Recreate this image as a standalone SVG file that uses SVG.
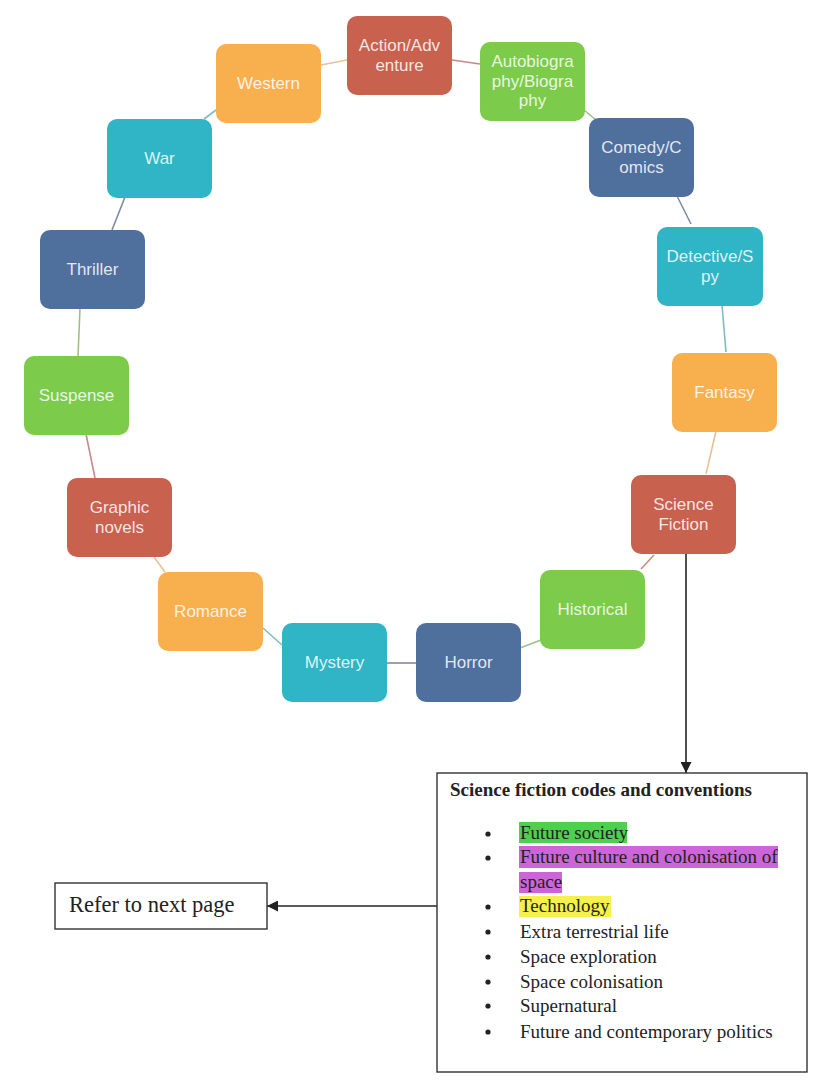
<svg xmlns="http://www.w3.org/2000/svg" width="821" height="1086" viewBox="0 0 821 1086">
<defs>
<style>
.n rect{rx:10;ry:10}
.red{fill:#c9614f}
.grn{fill:#7ccb4b}
.blu{fill:#4f6f9d}
.tea{fill:#2fb5c6}
.org{fill:#f8b04f}
.nt{font-family:"Liberation Sans",Arial,sans-serif;font-size:17px;fill:#fff;fill-opacity:0.85;text-anchor:middle}
.c line{stroke-width:1.6;fill:none}
.cr{stroke:#c98a86}.cg{stroke:#9cc08a}.cb{stroke:#7f8aa6}.ct{stroke:#7fbcc4}.co{stroke:#e6c294}
.ser{font-family:"Liberation Serif","Times New Roman",serif;fill:#222}
.blk{stroke:#222;stroke-width:1.4;fill:none}
</style>
<marker id="ah" viewBox="0 0 10 10" refX="10" refY="5" markerWidth="11" markerHeight="11" markerUnits="userSpaceOnUse" orient="auto">
<path d="M0,0 L10,5 L0,10 z" fill="#222"/>
</marker>
</defs>
<rect width="821" height="1086" fill="#fff"/>

<g id="connectors" class="c">
<line class="cr" x1="452" y1="60" x2="480" y2="64"/>
<line class="cg" x1="584" y1="110" x2="596" y2="120"/>
<line class="cb" x1="677" y1="196" x2="691" y2="224"/>
<line class="ct" x1="722" y1="305" x2="726" y2="352"/>
<line class="co" x1="716" y1="431" x2="706" y2="474"/>
<line class="cr" x1="654" y1="555" x2="641" y2="569"/>
<line class="cg" x1="541" y1="640" x2="520" y2="648"/>
<line class="cb" x1="416" y1="663" x2="387" y2="663"/>
<line class="ct" x1="282" y1="645" x2="263" y2="628"/>
<line class="co" x1="165" y1="572" x2="154" y2="557"/>
<line class="cr" x1="95" y1="478" x2="86" y2="434"/>
<line class="cg" x1="78" y1="356" x2="80" y2="308"/>
<line class="cb" x1="112" y1="230" x2="125" y2="197"/>
<line class="ct" x1="204" y1="119" x2="216" y2="110"/>
<line class="co" x1="321" y1="65" x2="347" y2="60"/>
<line class="blk" x1="686" y1="553" x2="686" y2="773" marker-end="url(#ah)"/>
<line class="blk" x1="437" y1="906" x2="267" y2="906" marker-end="url(#ah)"/>
</g>

<g id="action" class="n"><rect class="red" x="347" y="16" width="105" height="79"/><text class="nt" x="399.5" y="51">Action/Adv</text><text class="nt" x="399.5" y="70.6">enture</text></g>
<g id="autobiography" class="n"><rect class="grn" x="480" y="42" width="105" height="79"/><text class="nt" x="532.5" y="67">Autobiogra</text><text class="nt" x="532.5" y="86.6">phy/Biogra</text><text class="nt" x="532.5" y="106.2">phy</text></g>
<g id="comedy" class="n"><rect class="blu" x="589" y="118" width="105" height="79"/><text class="nt" x="641.5" y="153">Comedy/C</text><text class="nt" x="641.5" y="172.6">omics</text></g>
<g id="detective" class="n"><rect class="tea" x="657" y="227" width="106" height="79"/><text class="nt" x="710" y="262">Detective/S</text><text class="nt" x="710" y="281.6">py</text></g>
<g id="fantasy" class="n"><rect class="org" x="672" y="353" width="105" height="79"/><text class="nt" x="724.5" y="398">Fantasy</text></g>
<g id="scifi" class="n"><rect class="red" x="631" y="475" width="105" height="79"/><text class="nt" x="683.5" y="510">Science</text><text class="nt" x="683.5" y="529.6">Fiction</text></g>
<g id="historical" class="n"><rect class="grn" x="540" y="570" width="105" height="79"/><text class="nt" x="592.5" y="615">Historical</text></g>
<g id="horror" class="n"><rect class="blu" x="416" y="623" width="105" height="79"/><text class="nt" x="468.5" y="668">Horror</text></g>
<g id="mystery" class="n"><rect class="tea" x="282" y="623" width="105" height="79"/><text class="nt" x="334.5" y="668">Mystery</text></g>
<g id="romance" class="n"><rect class="org" x="158" y="572" width="105" height="79"/><text class="nt" x="210.5" y="617">Romance</text></g>
<g id="graphic" class="n"><rect class="red" x="67" y="478" width="105" height="79"/><text class="nt" x="119.5" y="513">Graphic</text><text class="nt" x="119.5" y="532.6">novels</text></g>
<g id="suspense" class="n"><rect class="grn" x="24" y="356" width="105" height="79"/><text class="nt" x="76.5" y="401">Suspense</text></g>
<g id="thriller" class="n"><rect class="blu" x="40" y="230" width="105" height="79"/><text class="nt" x="92.5" y="275">Thriller</text></g>
<g id="war" class="n"><rect class="tea" x="107" y="119" width="105" height="79"/><text class="nt" x="159.5" y="164">War</text></g>
<g id="western" class="n"><rect class="org" x="216" y="44" width="105" height="79"/><text class="nt" x="268.5" y="89">Western</text></g>

<g id="conventions">
<rect x="437" y="773" width="370" height="299" fill="#fff" stroke="#333" stroke-width="1.4"/>
<text class="ser" x="450" y="796" font-size="19" font-weight="bold">Science fiction codes and conventions</text>
<rect x="519" y="822" width="108" height="21" fill="#4fcf50"/>
<rect x="519" y="846" width="259" height="22" fill="#cc66d8"/>
<rect x="519" y="872" width="43" height="21" fill="#cc66d8"/>
<rect x="519" y="896" width="92" height="21" fill="#f6f04a"/>
<g fill="#222">
<circle cx="488" cy="834" r="2.6"/><circle cx="488" cy="858" r="2.6"/><circle cx="488" cy="907" r="2.6"/><circle cx="488" cy="932" r="2.6"/><circle cx="488" cy="957" r="2.6"/><circle cx="488" cy="982" r="2.6"/><circle cx="488" cy="1006" r="2.6"/><circle cx="488" cy="1032" r="2.6"/>
</g>
<g class="ser" font-size="19">
<text x="520" y="839">Future society</text>
<text x="520" y="863">Future culture and colonisation of</text>
<text x="520" y="888">space</text>
<text x="520" y="912">Technology</text>
<text x="520" y="938">Extra terrestrial life</text>
<text x="520" y="963">Space exploration</text>
<text x="520" y="988">Space colonisation</text>
<text x="520" y="1012">Supernatural</text>
<text x="520" y="1038">Future and contemporary politics</text>
</g>
</g>

<g id="refer">
<rect x="55" y="883" width="212" height="46" fill="#fff" stroke="#333" stroke-width="1.4"/>
<text class="ser" x="69" y="912" font-size="22.5">Refer to next page</text>
</g>
</svg>
